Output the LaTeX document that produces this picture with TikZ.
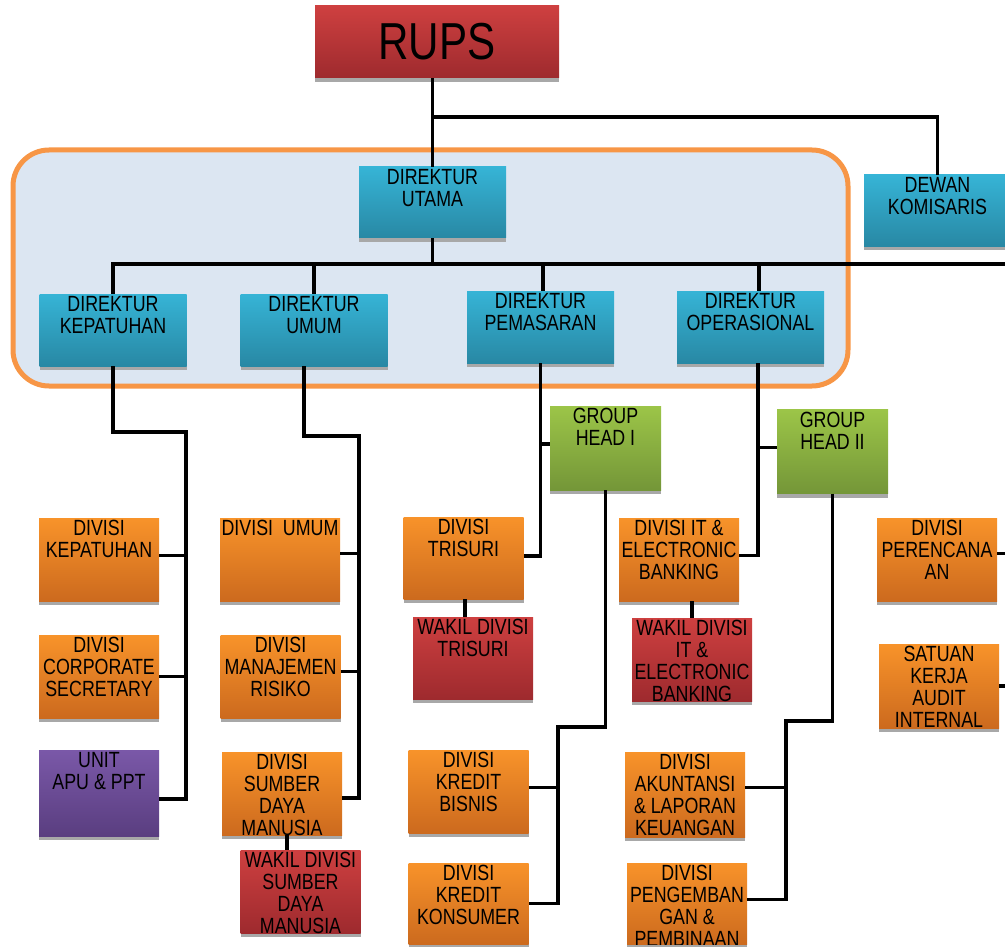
\documentclass[tikz,border=0pt]{standalone}
\usepackage{fontspec}
\setmainfont{Liberation Sans}[FakeStretch=0.81]
\newfontfamily\rupsfont{Liberation Sans}[FakeStretch=0.81]
\usepackage{tikz}
\usetikzlibrary{calc, positioning, shadows}
\usepackage{xcolor}
\definecolor{dirTop}{RGB}{54, 180, 214}
\definecolor{dirBot}{RGB}{40, 136, 164}
\definecolor{divTop}{RGB}{248, 147, 42}
\definecolor{divBot}{RGB}{204, 106, 30}
\definecolor{redTop}{RGB}{206, 64, 64}
\definecolor{redBot}{RGB}{158, 42, 46}
\definecolor{grpTop}{RGB}{156, 197, 72}
\definecolor{grpBot}{RGB}{116, 150, 56}
\definecolor{purTop}{RGB}{122, 88, 168}
\definecolor{purBot}{RGB}{90, 62, 128}
\definecolor{panelFill}{RGB}{220, 230, 242}
\definecolor{panelLine}{RGB}{247, 150, 70}
\definecolor{shadowGray}{RGB}{168, 168, 168}

\begin{document}
\begin{tikzpicture}[x=1pt, y=-1pt,
  box/.style={inner sep=0pt, drop shadow={shadow xshift=0pt, shadow yshift=-4pt, fill=shadowGray, opacity=1}},
  boxtext/.style={inner sep=0pt, minimum width=0pt, minimum height=0pt, anchor=north, align=center,
    font=\fontsize{22}{22}\selectfont},
  txt/.style={path picture={\node[boxtext] at ([yshift=-2pt]path picture bounding box.north) {#1};}},
  dirbox/.style={box, top color=dirTop, bottom color=dirBot, minimum width=147pt, minimum height=72pt},
  divbox/.style={box, top color=divTop, bottom color=divBot, minimum width=120pt, minimum height=83pt},
  wakbox/.style={box, top color=redTop, bottom color=redBot, minimum width=120pt, minimum height=83pt},
  grpbox/.style={box, top color=grpTop, bottom color=grpBot, minimum width=111pt, minimum height=84pt},
  unitbox/.style={box, top color=purTop, bottom color=purBot, minimum width=120pt, minimum height=86pt},
  link/.style={line width=3.6pt, black}]
  \useasboundingbox (0,0) rectangle (1005,947);
  \clip (0,0) rectangle (1005,947);

  % board of directors panel
  \draw[line width=5pt, panelLine, fill=panelFill, rounded corners=36pt] (13,150) rectangle (848,386);

  % top level
  \node[box, top color=redTop, bottom color=redBot, minimum width=244pt, minimum height=72pt,
    font=\rupsfont\fontsize{52}{52}\selectfont] (rups) at (437,42) {RUPS};
  \node[dirbox, txt={DIREKTUR\\UTAMA}, minimum height=71pt] (du) at (432.5,202.5) {};
  \node[dirbox, txt={DEWAN\\KOMISARIS}, minimum height=71pt] (dk) at (937.5,210.5) {};

  % directors
  \node[dirbox, txt={DIREKTUR\\KEPATUHAN}] (dkep) at (113,330) {};
  \node[dirbox, txt={DIREKTUR\\UMUM}] (dumum) at (314,330) {};
  \node[dirbox, txt={DIREKTUR\\PEMASARAN}] (dpem) at (540.5,327) {};
  \node[dirbox, txt={DIREKTUR\\OPERASIONAL}] (dops) at (750.5,327) {};

  % group heads
  \node[grpbox, txt={GROUP\\HEAD I}] (gh1) at (605.5,448) {};
  \node[grpbox, txt={GROUP\\HEAD II}] (gh2) at (832.5,451.5) {};

  % divisions
  \node[divbox, txt={DIVISI\\KEPATUHAN}] (dvkep) at (99,559.5) {};
  \node[divbox, txt={DIVISI\\CORPORATE\\SECRETARY}] (corp) at (99,676.5) {};
  \node[unitbox, txt={UNIT\\APU \& PPT}] (apu) at (99,793) {};
  \node[divbox, txt={DIVISI\ \ UMUM}] (dvumum) at (280,559.5) {};
  \node[divbox, txt={DIVISI\\MANAJEMEN\\RISIKO}] (mr) at (280.5,676.5) {};
  \node[divbox, txt={DIVISI\\SUMBER\\DAYA\\MANUSIA}] (sdm) at (282,793.5) {};
  \node[wakbox, txt={WAKIL DIVISI\\SUMBER\\DAYA\\MANUSIA}] (wksdm) at (300.5,891.5) {};
  \node[divbox, txt={DIVISI\\TRISURI}, minimum height=82pt] (tri) at (463.5,558) {};
  \node[wakbox, txt={WAKIL DIVISI\\TRISURI}, minimum height=82pt] (wktri) at (473,658) {};
  \node[divbox, txt={DIVISI\\KREDIT\\BISNIS}] (kb) at (468.5,791.5) {};
  \node[divbox, txt={DIVISI\\KREDIT\\KONSUMER}, minimum height=81pt] (kk) at (468.5,903.5) {};
  \node[divbox, txt={DIVISI IT \&\\ELECTRONIC\\BANKING}] (it) at (679,559.5) {};
  \node[wakbox, txt={WAKIL DIVISI\\IT \&\\ELECTRONIC\\BANKING}] (wkit) at (692,659.5) {};
  \node[divbox, txt={DIVISI\\AKUNTANSI\\\& LAPORAN\\KEUANGAN}, minimum height=85pt] (ak) at (685,794.5) {};
  \node[divbox, txt={DIVISI\\PENGEMBAN\\GAN \&\\PEMBINAAN}, minimum height=81pt] (pb) at (687,903.5) {};
  \node[divbox, txt={DIVISI\\PERENCANA\\AN}] (per) at (937,559.5) {};
  \node[divbox, txt={SATUAN\\KERJA\\AUDIT\\INTERNAL}, minimum height=84pt] (skai) at (939,686) {};

  % junction points
  \coordinate (j0) at (432.5,117);
  \coordinate (j1) at (432.5,264);
  \coordinate (edgeR) at (1010,0);
  \coordinate (k1) at (186,432);
  \coordinate (k2) at (186,799);
  \coordinate (u1) at (359,436);
  \coordinate (u2) at (359,798);
  \coordinate (g1) at (558,727);
  \coordinate (g2) at (786,721);
  \coordinate (umumS) at ([xshift=-10pt]dumum.south);
  \coordinate (opsN) at ([xshift=8.5pt]dops.north);
  \coordinate (opsS) at ([xshift=7.5pt]dops.south);
  \coordinate (pemN) at ([xshift=2.5pt]dpem.north);
  \coordinate (sdmS) at ([xshift=5pt]sdm.south);
  \coordinate (triS) at ([xshift=1.5pt]tri.south);

  % connectors
  \draw[link] (du.north |- rups.south) -- (j0) -| (dk.north);
  \draw[link] (j0) -- (du.north);
  \draw[link] (du.south) -- (j1);
  \draw[link] (dkep.north) |- (edgeR |- j1);
  \draw[link] (dumum.north) -- (dumum.north |- j1);
  \draw[link] (pemN) -- (pemN |- j1);
  \draw[link] (opsN) -- (opsN |- j1);

  \draw[link] (dkep.south) |- (k1) -- (k2) -- (apu.east |- k2);
  \draw[link] ([yshift=4pt]dvkep.east) -- ([yshift=4pt]dvkep.east -| k1);
  \draw[link] (corp.east) -- (corp.east -| k1);

  \draw[link] (umumS) |- (u1) -- (u2) -- (sdm.east |- u2);
  \draw[link] ([yshift=6pt]dvumum.east) -- ([yshift=6pt]dvumum.east -| u1);
  \draw[link] ([yshift=5pt]mr.east) -- ([yshift=5pt]mr.east -| u1);
  \draw[link] (sdmS) -- (sdmS |- wksdm.north);

  \draw[link] (dpem.south) |- ([yshift=2pt]tri.east);
  \draw[link] ([yshift=4pt]gh1.west) -- ([yshift=4pt]gh1.west -| dpem.south);
  \draw[link] (triS) -- (triS |- wktri.north);

  \draw[link] (opsS) |- ([yshift=4pt]it.east);
  \draw[link] ([yshift=4pt]gh2.west) -- ([yshift=4pt]gh2.west -| opsS);
  \draw[link] (wkit.north) -- (wkit.north |- it.south);

  \draw[link] (gh1.south) |- (g1) -- (g1 |- kk.east) -- (kk.east);
  \draw[link] ([yshift=4pt]kb.east) -- ([yshift=4pt]kb.east -| g1);
  \draw[link] (gh2.south) |- (g2) -- ([yshift=4pt]g2 |- pb.east) -- ([yshift=4pt]pb.east);
  \draw[link] ([yshift=7pt]ak.east) -- ([yshift=7pt]ak.east -| g2);

  \draw[link] ([yshift=6pt]per.east) -- ([yshift=6pt]per.east -| edgeR);
  \draw[link] (skai.east) -- (skai.east -| edgeR);
\end{tikzpicture}
\end{document}
